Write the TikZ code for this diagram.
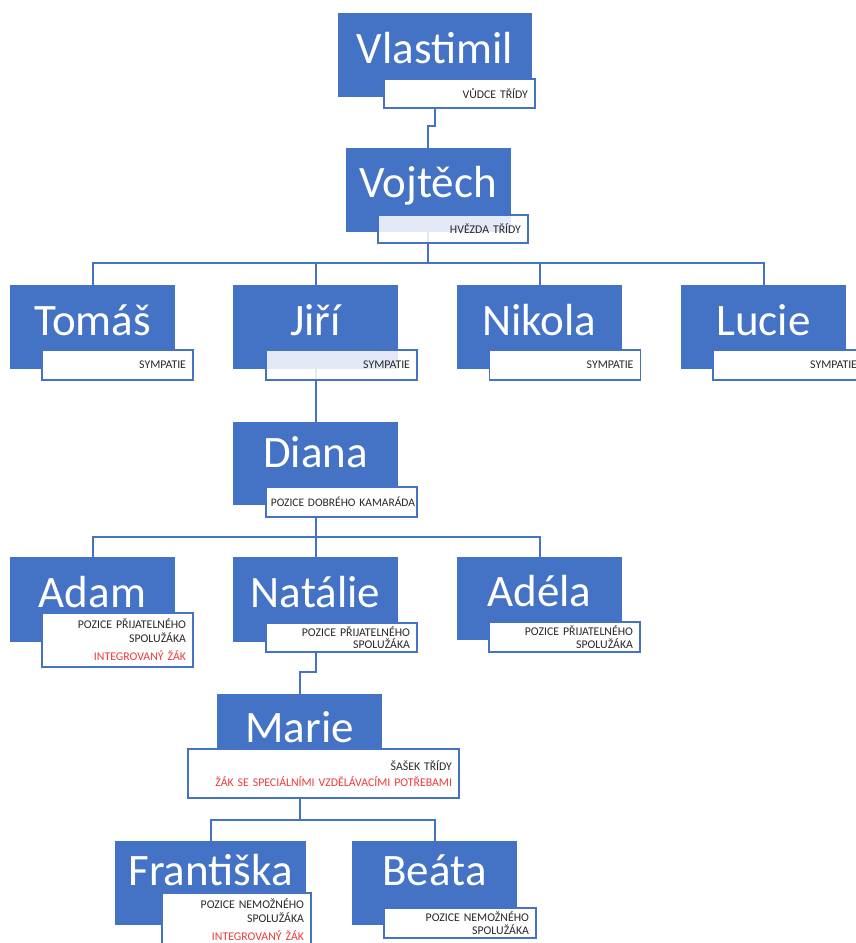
\documentclass[tikz,border=0pt]{standalone}
\usepackage{fontspec}
\setmainfont{Carlito}
\definecolor{obl}{RGB}{68,114,196}
\definecolor{tagtxt}{RGB}{40,40,40}
\definecolor{tagred}{RGB}{238,58,58}
\newcommand\redtxt[1]{\textcolor{tagred}{#1}}
\pgfdeclarelayer{paper}
\pgfdeclarelayer{background}
\pgfsetlayers{paper,background,main}
\tikzset{
  person/.style={fill=obl, draw=none, minimum width=165, minimum height=84, inner sep=0,
    text height=40, text depth=24, text=white, font=\fontsize{45}{54}\selectfont},
  tag/.style={draw=obl, line width=1.6, fill=white, minimum width=151, minimum height=30,
    inner xsep=7, inner ysep=0, text width=137, align=right, text=tagtxt,
    font=\fontsize{11.8}{12.5}\selectfont},
  tagthree/.style={tag, minimum height=54, font=\fontsize{11.8}{14}\selectfont},
  ghost/.style={fill opacity=0.85, text opacity=1, draw opacity=1},
  conn/.style={draw=obl, line width=2}
}
\begin{document}
\begin{tikzpicture}[x=1pt,y=-1pt]
\useasboundingbox (0,0) rectangle (856,943);
\clip (0,0) rectangle (856,943);
\begin{pgfonlayer}{paper}
\fill[white] (0,0) rectangle (856,943);
\end{pgfonlayer}

% level 1
\node[person, minimum width=194] (vlastimil) at (435,55) {Vlastimil};
\node[tag, minimum height=29] (vlastimilT) at (459.5,93.5) {VŮDCE TŘÍDY};

% level 2
\node[person, text depth=26] (vojtech) at (428,190) {Vojtěch};
\node[tag, ghost, minimum height=28, minimum width=150, text width=136] (vojtechT) at (453,229) {HVĚZDA TŘÍDY};

% level 3
\node[person] (tomas) at (92.5,327) {Tomáš};
\node[tag] (tomasT) at (117.5,365) {SYMPATIE};
\node[person] (jiri) at (315.5,327) {Jiří};
\node[tag, ghost] (jiriT) at (341.5,365) {SYMPATIE};
\node[person] (nikola) at (539.5,327) {Nikola};
\node[tag] (nikolaT) at (565,365) {SYMPATIE};
\node[person] (lucie) at (763.5,327) {Lucie};
\node[tag] (lucieT) at (788.5,365) {SYMPATIE};

% level 4
\node[person, minimum height=83, text depth=32] (diana) at (315.5,463.5) {Diana};
\node[tag, inner xsep=2, text width=147, font=\fontsize{11.5}{12.5}\selectfont] (dianaT) at (341.5,502) {\mbox{POZICE DOBRÉHO KAMARÁDA}};

% level 5
\node[person, minimum height=85] (adam) at (92.5,599.5) {Adam};
\node[tagthree] (adamT) at (117.5,640) {POZICE PŘIJATELNÉHO\\SPOLUŽÁKA\\[4pt]\redtxt{INTEGROVANÝ ŽÁK}};
\node[person, minimum height=85] (natalie) at (315.5,599.5) {Natálie};
\node[tag, minimum height=29] (natalieT) at (341.5,637.5) {POZICE PŘIJATELNÉHO\\SPOLUŽÁKA};
\node[person, minimum height=83] (adela) at (539.5,598.5) {Adéla};
\node[tag] (adelaT) at (564.5,637) {POZICE PŘIJATELNÉHO\\SPOLUŽÁKA};

% level 6
\node[person, text depth=28] (marie) at (299.5,736) {Marie};
\node[tag, minimum width=271, text width=257, minimum height=49, font=\fontsize{11.8}{13}\selectfont] (marieT) at (323.5,773.5)
  {ŠAŠEK TŘÍDY\\[3pt]\redtxt{ŽÁK SE SPECIÁLNÍMI VZDĚLÁVACÍMI POTŘEBAMI}};

% level 7
\node[person, minimum width=191, text depth=36] (frantiska) at (210.5,883) {Františka};
\node[tagthree, minimum width=149, text width=135] (frantiskaT) at (236.5,920) {POZICE NEMOŽNÉHO\\SPOLUŽÁKA\\[4pt]\redtxt{INTEGROVANÝ ŽÁK}};
\node[person, text depth=36] (beata) at (434.5,883) {Beáta};
\node[tag, minimum width=152, text width=138] (beataT) at (460,923) {POZICE NEMOŽNÉHO\\SPOLUŽÁKA};

% connectors
\begin{pgfonlayer}{background}
\draw[conn] (vlastimil.south) -- ++(0,29) -| (vojtech.north);
\foreach \c in {tomas,jiri,nikola,lucie}
  \draw[conn] (vojtech.south) -- ++(0,31) -| (\c.north);
\draw[conn] (jiri.south) -- (diana.north);
\foreach \c in {adam,natalie,adela}
  \draw[conn] (diana.south) -- ++(0,32) -| (\c.north);
\draw[conn] (natalie.south) -- ++(0,30) -| (marie.north);
\foreach \c in {frantiska,beata}
  \draw[conn] (marie.south) -- ++(0,42) -| (\c.north);
\end{pgfonlayer}
\end{tikzpicture}
\end{document}
